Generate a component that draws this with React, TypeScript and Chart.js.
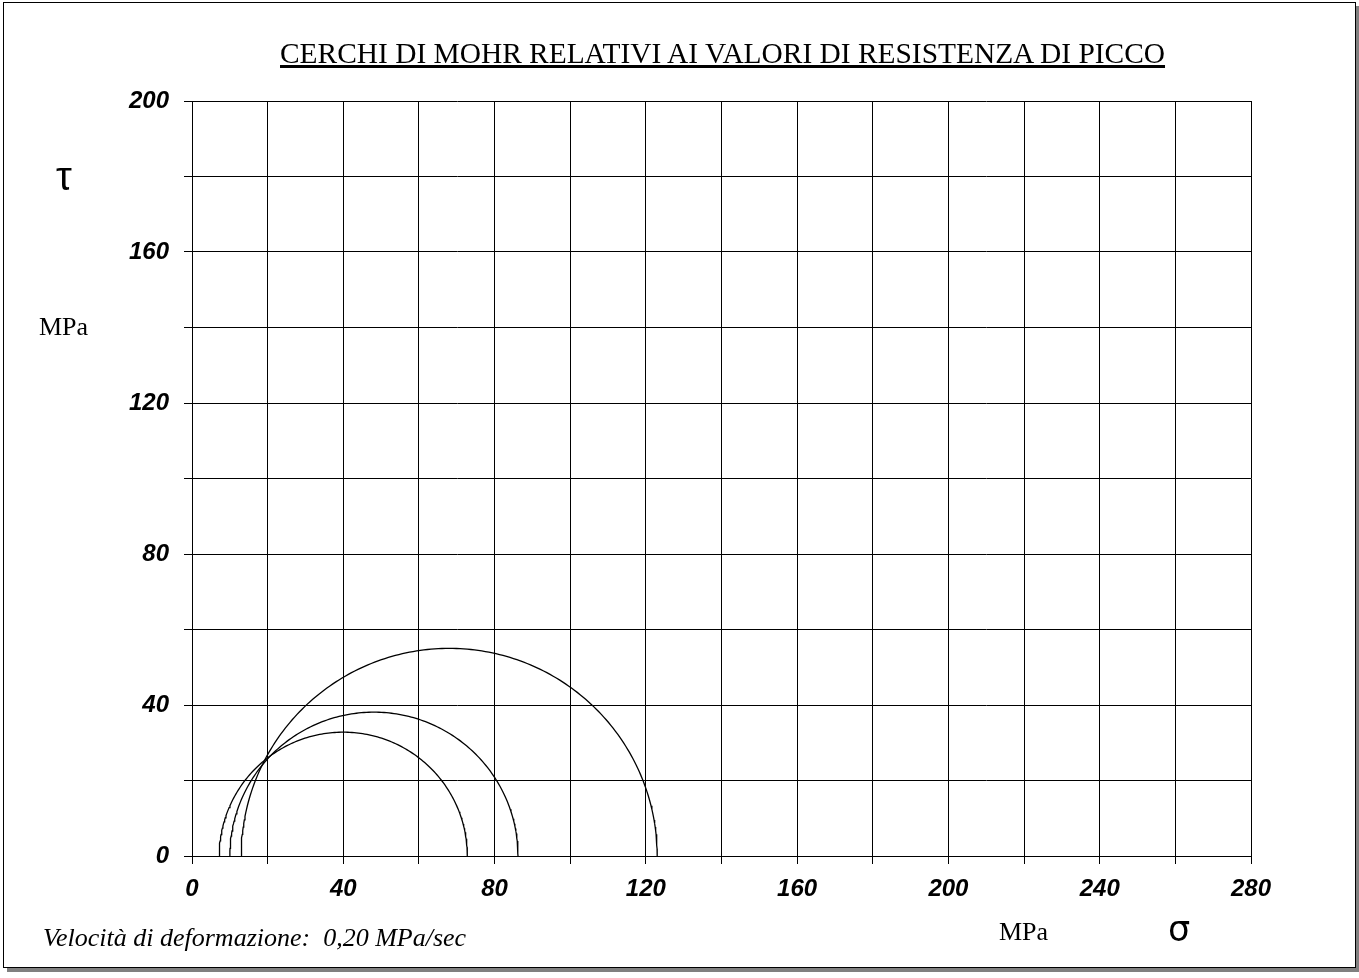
import React, { useEffect, useRef } from 'react';
import { Chart, registerables } from 'chart.js';

Chart.register(...registerables);

// Mohr circles: minor (sigma3) and major (sigma1) principal stresses, MPa
const sigma3 = [7.2, 10.0, 13.0];
const sigma1 = [72.8, 86.2, 123.0];

const xLabelTicks = [0, 40, 80, 120, 160, 200, 240, 280];
const yLabelTicks = [0, 40, 80, 120, 160, 200];

const titleText = 'CERCHI DI MOHR RELATIVI AI VALORI DI RESISTENZA DI PICCO';
const noteText = 'Velocità di deformazione:  0,20 MPa/sec';
const unitText = 'MPa';
const tauText = 'τ';
const sigmaText = 'σ';

function mohrPoints(s3: number, s1: number) {
  const c = (s1 + s3) / 2;
  const r = (s1 - s3) / 2;
  const pts: { x: number; y: number }[] = [];
  for (let k = 0; k <= 180; k++) {
    const a = (Math.PI * k) / 180;
    pts.push({ x: c - r * Math.cos(a), y: r * Math.sin(a) });
  }
  return pts;
}

const tickFont = {
  family: '"Liberation Sans", Arial, sans-serif',
  size: 24,
  style: 'italic' as const,
  weight: 'bold' as const,
};

export default function App() {
  const ref = useRef<HTMLCanvasElement | null>(null);

  useEffect(() => {
    document.body.style.margin = '0';
    const canvas = ref.current;
    if (!canvas) return;
    const chart = new Chart(canvas, {
      type: 'scatter',
      data: {
        datasets: sigma3.map((s3, i) => ({
          label: 'C' + (i + 1),
          data: mohrPoints(s3, sigma1[i]),
          showLine: true,
          borderColor: '#000',
          borderWidth: 1.3,
          pointRadius: 0,
          fill: false,
          tension: 0,
        })),
      },
      options: {
        responsive: false,
        maintainAspectRatio: false,
        animation: false,
        devicePixelRatio: 1,
        layout: { padding: { left: 0, right: 108, top: 101, bottom: 0 } },
        plugins: { legend: { display: false }, tooltip: { enabled: false }, title: { display: false } },
        scales: {
          x: {
            type: 'linear',
            min: 0,
            max: 280,
            ticks: {
              stepSize: 20,
              autoSkip: false,
              maxRotation: 0,
              padding: 11,
              color: '#000',
              font: tickFont,
              callback: (v: any) => (xLabelTicks.includes(Number(v)) ? String(v) : ''),
            },
            grid: { color: '#000', lineWidth: 1, tickLength: 8, drawTicks: true },
            border: { color: '#000', width: 1 },
            afterFit: (s: any) => {
              s.height = 122;
            },
          },
          y: {
            type: 'linear',
            min: 0,
            max: 200,
            ticks: {
              stepSize: 20,
              autoSkip: false,
              padding: 15,
              color: '#000',
              font: tickFont,
              callback: (v: any) => (yLabelTicks.includes(Number(v)) ? String(v) : ''),
            },
            grid: { color: '#000', lineWidth: 1, tickLength: 8, drawTicks: true },
            border: { color: '#000', width: 1 },
            afterFit: (s: any) => {
              s.width = 192;
            },
          },
        },
      },
    });
    return () => chart.destroy();
  }, []);

  const serif = '"Liberation Serif", "Times New Roman", serif';
  const sans = '"Liberation Sans", Arial, sans-serif';
  const dejavu = '"DejaVu Sans", sans-serif';
  const abs = (left: number, top: number, size: number, family: string, extra: any = {}) => ({
    position: 'absolute' as const,
    left,
    top,
    fontSize: size,
    lineHeight: size + 'px',
    fontFamily: family,
    whiteSpace: 'pre' as const,
    color: '#000',
    ...extra,
  });

  return (
    <div style={{ position: 'relative', width: 1359, height: 978, overflow: 'hidden', background: '#fff' }}>
      <div
        style={{
          position: 'absolute',
          left: 3,
          top: 2,
          width: 1353,
          height: 966,
          boxSizing: 'border-box',
          border: '1px solid #000',
          boxShadow: '4px 4px 0 #808080',
          background: '#fff',
        }}
      />
      <canvas ref={ref} width={1359} height={978} style={{ position: 'absolute', left: 0, top: 0, width: 1359, height: 978 }} />
      <div
        style={abs(280, 38, 30, serif, {
          textDecoration: 'underline',
          transform: 'scaleX(0.98)',
          transformOrigin: 'left center',
        })}
      >
        {titleText}
      </div>
      <div style={abs(56, 156, 40, sans)}>{tauText}</div>
      <div style={abs(39, 314, 26, serif)}>{unitText}</div>
      <div style={abs(43, 925, 26, serif, { fontStyle: 'italic' })}>{noteText}</div>
      <div style={abs(999, 919, 26, serif)}>{unitText}</div>
      <div style={abs(1168, 912, 35, dejavu)}>{sigmaText}</div>
    </div>
  );
}
